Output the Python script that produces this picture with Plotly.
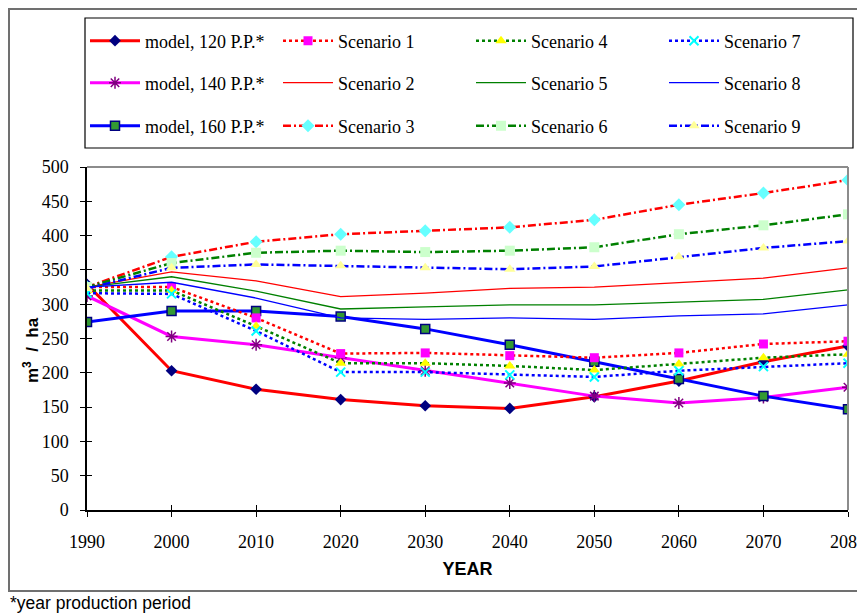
import plotly.graph_objects as go

years = [1990, 2000, 2010, 2020, 2030, 2040, 2050, 2060, 2070, 2080]
y_ticks = [0, 50, 100, 150, 200, 250, 300, 350, 400, 450, 500]

model_120 = [329, 203, 176, 161, 152, 148, 165, 188, 216, 239]
model_140 = [312, 253, 241, 222, 203, 185, 166, 156, 164, 179]
model_160 = [274, 290, 290, 282, 264, 241, 216, 191, 166, 147]
scen1 = [325, 325, 280, 228, 229, 225, 222, 229, 242, 246]
scen2 = [325, 347, 334, 311, 316, 323, 325, 331, 338, 353]
scen3 = [325, 369, 391, 402, 407, 412, 423, 445, 462, 481]
scen4 = [320, 320, 268, 214, 214, 210, 204, 213, 222, 227]
scen5 = [325, 340, 319, 293, 296, 299, 299, 303, 307, 321]
scen6 = [325, 360, 375, 378, 376, 378, 383, 402, 415, 431]
scen7 = [316, 315, 261, 201, 201, 197, 194, 203, 209, 214]
scen8 = [325, 332, 309, 280, 278, 280, 278, 283, 286, 299]
scen9 = [323, 353, 358, 356, 353, 351, 355, 369, 382, 392]

names = ["model, 120 P.P.*", "model, 140 P.P.*", "model, 160 P.P.*",
         "Scenario 1", "Scenario 2", "Scenario 3", "Scenario 4", "Scenario 5",
         "Scenario 6", "Scenario 7", "Scenario 8", "Scenario 9"]

# page body adds an 8px margin; figure is sized so that it fills the window
OFF = 8
W, H = 865 - OFF, 615 - OFF
L, T = 87 - OFF, 167 - OFF
R = W - (848 - OFF)
B = H - (510 - OFF)
PW, PH = W - L - R, H - T - B


def px(x):
    """reference-picture x pixel -> paper coordinate"""
    return (x - OFF - L) / PW


def py(y):
    """reference-picture y pixel -> paper coordinate"""
    return (H - B - (y - OFF)) / PH


fig = go.Figure()


def add(y, name, legend, color, width, dash, marker=None):
    kw = dict(x=years, y=y, name=name, legend=legend,
              line=dict(color=color, width=width, dash=dash))
    if marker is None:
        kw["mode"] = "lines"
    else:
        kw["mode"] = "lines+markers"
        kw["marker"] = marker
    fig.add_trace(go.Scatter(**kw))


dashdot = "8px,3px,2px,3px"

add(model_120, names[0], "legend", "#FF0000", 3, "solid",
    dict(symbol="diamond", size=9, color="#000080"))
add(model_140, names[1], "legend2", "#FF00FF", 3, "solid",
    dict(symbol="asterisk-open", size=10, color="#800080", line=dict(color="#800080", width=1.5)))
add(model_160, names[2], "legend3", "#0000FF", 3, "solid",
    dict(symbol="square", size=9, color="#339933", line=dict(color="#000080", width=1.5)))
add(scen1, names[3], "legend", "#FF0000", 2.5, "dot",
    dict(symbol="square", size=9, color="#FF00FF"))
add(scen2, names[4], "legend2", "#FF0000", 1.3, "solid")
add(scen3, names[5], "legend3", "#FF0000", 2.5, dashdot,
    dict(symbol="diamond", size=10, color="#66FFFF"))
add(scen4, names[6], "legend", "#008000", 2.5, "dot",
    dict(symbol="triangle-up", size=10, color="#FFFF00"))
add(scen5, names[7], "legend2", "#008000", 1.3, "solid")
add(scen6, names[8], "legend3", "#008000", 2.5, dashdot,
    dict(symbol="square", size=10, color="#CCFFCC"))
add(scen7, names[9], "legend", "#0000FF", 2.5, "dot",
    dict(symbol="x-thin-open", size=9, color="#00FFFF", line=dict(color="#00FFFF", width=2)))
add(scen8, names[10], "legend2", "#0000FF", 1.3, "solid")
add(scen9, names[11], "legend3", "#0000FF", 2.5, dashdot,
    dict(symbol="triangle-up", size=10, color="#FFFF99"))

SERIF = "Liberation Serif"
SANS = "Liberation Sans"

leg_common = dict(orientation="h", xanchor="left", yanchor="middle",
                  x=px(85), entrywidth=128, entrywidthmode="pixels",
                  itemwidth=50, bgcolor="rgba(0,0,0,0)",
                  font=dict(family=SERIF, size=18, color="black"))

tick_font = dict(family=SERIF, size=18, color="black")

fig.update_layout(
    width=W, height=H,
    margin=dict(l=L, r=R, t=T, b=B, autoexpand=False),
    paper_bgcolor="white", plot_bgcolor="white",
    font=dict(family=SERIF, color="black"),
    legend=dict(**leg_common, y=py(41)),
    legend2=dict(**leg_common, y=py(83)),
    legend3=dict(**leg_common, y=py(126)),
    xaxis=dict(range=[1990, 2080], tickvals=years, ticktext=[str(v) for v in years],
               ticks="outside", ticklen=5, tickcolor="black", tickwidth=1.2,
               showline=True, linecolor="black", linewidth=1.5,
               showgrid=False, zeroline=False, tickfont=tick_font,
               ticklabelstandoff=10, ticklabeloverflow="allow",
               title=dict(text="<b>YEAR</b>", standoff=11,
                          font=dict(family=SANS, size=18, color="black"))),
    yaxis=dict(range=[0, 500], tickvals=y_ticks,
               ticks="outside", ticklen=5, tickcolor="black", tickwidth=1.2,
               showline=True, linecolor="black", linewidth=1.5,
               showgrid=False, zeroline=False, tickfont=tick_font,
               ticklabelstandoff=8),
    xaxis2=dict(overlaying="x", anchor="y", range=[1990, 2080], tickvals=years,
                ticks="inside", ticklen=5, tickcolor="black", tickwidth=1.2,
                showticklabels=False, showline=False, showgrid=False, zeroline=False),
    yaxis2=dict(overlaying="y", anchor="x", range=[0, 500], tickvals=y_ticks,
                ticks="inside", ticklen=5, tickcolor="black", tickwidth=1.2,
                showticklabels=False, showline=False, showgrid=False, zeroline=False),
    shapes=[
        dict(type="line", xref="paper", yref="paper", x0=0, x1=1, y0=1, y1=1,
             line=dict(color="#8C8C8C", width=2)),
        dict(type="line", xref="paper", yref="paper", x0=1, x1=1, y0=0, y1=1,
             line=dict(color="#8C8C8C", width=2)),
        dict(type="rect", xref="paper", yref="paper", x0=px(85), x1=px(853),
             y0=py(148), y1=py(18), line=dict(color="black", width=1.2)),
        dict(type="rect", xref="paper", yref="paper", x0=px(9), x1=px(880),
             y0=py(591), y1=py(9), line=dict(color="#707070", width=2)),
    ],
    annotations=[
        dict(text="<b>m<sup>3</sup>  /  ha</b>", xref="paper", yref="paper",
             x=px(31), y=py(350), xanchor="center", yanchor="middle",
             textangle=-90, showarrow=False,
             font=dict(family=SANS, size=17, color="black")),
        dict(text="*year production period", xref="paper", yref="paper",
             x=px(8), y=py(603), xanchor="left", yanchor="middle", showarrow=False,
             font=dict(family=SANS, size=17.5, color="black")),
    ],
)

fig.add_trace(go.Scatter(x=[], y=[], xaxis="x2", yaxis="y2", showlegend=False))

fig.write_html("out.html")
